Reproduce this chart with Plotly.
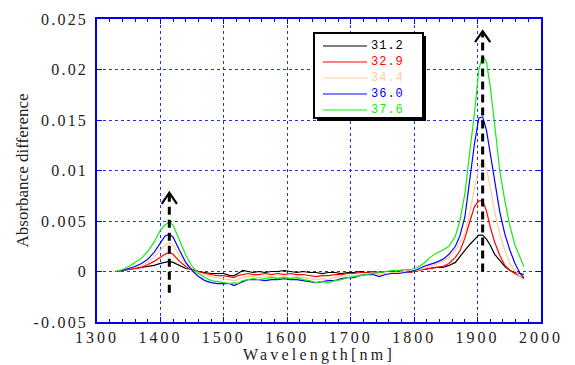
import plotly.graph_objects as go

wavelength = [1330, 1340, 1350, 1360, 1370, 1380, 1390, 1400, 1407, 1414, 1420, 1430, 1440, 1450,
              1460, 1470, 1480, 1490, 1500, 1510, 1516, 1522, 1530, 1538, 1546, 1555, 1565, 1575,
              1585, 1595, 1605, 1615, 1625, 1635, 1645, 1655, 1665, 1675, 1685, 1695, 1705, 1715,
              1725, 1735, 1745, 1755, 1765, 1775, 1785, 1795, 1805, 1815, 1825, 1835, 1845, 1855,
              1865, 1872, 1880, 1888, 1895, 1902, 1908, 1914, 1920, 1927, 1935, 1943, 1951, 1959,
              1967, 1973]

s_31_2 = [0.0000, 0.0001, 0.0002, 0.0003, 0.0004, 0.0005, 0.0006, 0.0008, 0.0009, 0.0010, 0.0009, 0.0006, 0.0003, 0.0002,
          0.0000, -0.0001, -0.0002, -0.0002, -0.0002, -0.0004, -0.0004, -0.0002, 0.0001, 0.0000, -0.0001, 0.0000, -0.0001, 0.0000,
          0.0000, 0.0001, 0.0000, -0.0001, 0.0000, -0.0001, -0.0001, -0.0002, -0.0001, -0.0001, -0.0002, -0.0001, -0.0001, 0.0000,
          -0.0001, 0.0000, -0.0001, 0.0000, 0.0000, 0.0001, 0.0000, 0.0001, 0.0001, 0.0002, 0.0003, 0.0004, 0.0004, 0.0006,
          0.0009, 0.0015, 0.0021, 0.0027, 0.0032, 0.0036, 0.0036, 0.0032, 0.0026, 0.0017, 0.0011, 0.0005, 0.0001, -0.0001,
          -0.0002, -0.0003]

s_32_9 = [0.0000, 0.0001, 0.0002, 0.0003, 0.0004, 0.0007, 0.0010, 0.0014, 0.0017, 0.0019, 0.0017, 0.0010, 0.0005, 0.0002,
          0.0000, -0.0002, -0.0003, -0.0004, -0.0004, -0.0005, -0.0006, -0.0004, -0.0003, -0.0002, -0.0003, -0.0003, -0.0002, -0.0003,
          -0.0002, -0.0003, -0.0002, -0.0003, -0.0003, -0.0004, -0.0005, -0.0004, -0.0004, -0.0003, -0.0003, -0.0002, -0.0002, -0.0001,
          -0.0001, 0.0000, -0.0001, 0.0000, 0.0000, 0.0001, 0.0000, -0.0001, 0.0001, 0.0002, 0.0003, 0.0004, 0.0005, 0.0008,
          0.0014, 0.0020, 0.0033, 0.0050, 0.0064, 0.0070, 0.0070, 0.0060, 0.0044, 0.0029, 0.0016, 0.0006, 0.0001, -0.0002,
          -0.0005, -0.0007]

s_34_4 = [0.0000, 0.0001, 0.0003, 0.0004, 0.0006, 0.0009, 0.0014, 0.0021, 0.0026, 0.0029, 0.0026, 0.0016, 0.0007, 0.0001,
          -0.0002, -0.0004, -0.0005, -0.0006, -0.0007, -0.0008, -0.0009, -0.0008, -0.0006, -0.0005, -0.0005, -0.0006, -0.0005, -0.0005,
          -0.0006, -0.0005, -0.0006, -0.0005, -0.0006, -0.0007, -0.0008, -0.0007, -0.0008, -0.0006, -0.0005, -0.0004, -0.0004, -0.0003,
          -0.0002, -0.0002, -0.0003, -0.0002, -0.0001, -0.0001, 0.0000, 0.0001, 0.0001, 0.0003, 0.0005, 0.0007, 0.0010, 0.0014,
          0.0021, 0.0029, 0.0037, 0.0060, 0.0083, 0.0103, 0.0109, 0.0102, 0.0083, 0.0059, 0.0037, 0.0021, 0.0008, 0.0001,
          -0.0005, -0.0009]

s_36_0 = [0.0000, 0.0001, 0.0003, 0.0005, 0.0008, 0.0012, 0.0019, 0.0029, 0.0035, 0.0037, 0.0034, 0.0021, 0.0009, 0.0001,
          -0.0005, -0.0009, -0.0011, -0.0012, -0.0012, -0.0012, -0.0014, -0.0012, -0.0010, -0.0008, -0.0008, -0.0008, -0.0009, -0.0008,
          -0.0008, -0.0007, -0.0008, -0.0008, -0.0009, -0.0010, -0.0011, -0.0010, -0.0009, -0.0009, -0.0007, -0.0006, -0.0006, -0.0004,
          -0.0003, -0.0003, -0.0005, -0.0003, -0.0002, -0.0002, -0.0001, 0.0000, 0.0002, 0.0005, 0.0007, 0.0009, 0.0012, 0.0017,
          0.0025, 0.0035, 0.0054, 0.0093, 0.0126, 0.0152, 0.0153, 0.0140, 0.0117, 0.0087, 0.0059, 0.0037, 0.0021, 0.0008,
          -0.0002, -0.0006]

s_37_6 = [0.0000, 0.0002, 0.0005, 0.0009, 0.0013, 0.0020, 0.0029, 0.0041, 0.0046, 0.0049, 0.0046, 0.0031, 0.0016, 0.0005,
          -0.0002, -0.0006, -0.0009, -0.0010, -0.0011, -0.0012, -0.0011, -0.0012, -0.0009, -0.0008, -0.0007, -0.0008, -0.0007, -0.0006,
          -0.0007, -0.0006, -0.0007, -0.0006, -0.0008, -0.0009, -0.0011, -0.0010, -0.0011, -0.0009, -0.0008, -0.0006, -0.0005, -0.0004,
          -0.0003, -0.0002, -0.0001, 0.0000, 0.0001, 0.0001, 0.0002, 0.0002, 0.0004, 0.0008, 0.0014, 0.0018, 0.0021, 0.0025,
          0.0035, 0.0050, 0.0077, 0.0120, 0.0156, 0.0200, 0.0214, 0.0207, 0.0183, 0.0145, 0.0100, 0.0070, 0.0045, 0.0026,
          0.0013, 0.0005]

series_labels = ["31.2", "32.9", "34.4", "36.0", "37.6"]
series_values = [s_31_2, s_32_9, s_34_4, s_36_0, s_37_6]
series_colors = ["#000000", "#ff0000", "#ffcc99", "#0000ff", "#11ee11"]

x_ticks = [1300, 1400, 1500, 1600, 1700, 1800, 1900, 2000]
y_ticks = [-0.005, 0, 0.005, 0.01, 0.015, 0.02, 0.025]
y_tick_labels = ["-0.005", "0", "0.005", "0.01", "0.015", "0.02", "0.025"]

arrow_x = [1414, 1908]
arrow_bottom = [-0.0021, 0.0]
arrow_top = [0.0078, 0.0238]
chevron_half_width = 12
chevron_drop = 0.0011

fig = go.Figure()

for lab, vals, col in zip(series_labels, series_values, series_colors):
    fig.add_trace(go.Scatter(x=wavelength, y=vals, mode="lines", name=lab,
                             line=dict(color=col, width=1.2), showlegend=False))

for ax, yb, yt in zip(arrow_x, arrow_bottom, arrow_top):
    fig.add_trace(go.Scatter(x=[ax, ax], y=[yb, yt - 0.0002], mode="lines",
                             line=dict(color="black", width=3, dash="8px,5px"), showlegend=False))
    fig.add_trace(go.Scatter(x=[ax - chevron_half_width, ax, ax + chevron_half_width],
                             y=[yt - chevron_drop, yt, yt - chevron_drop], mode="lines",
                             line=dict(color="black", width=2.2), showlegend=False))

# plot area geometry (pixels)
W, H = 575, 365
ml, mr, mt, mb = 97, 34, 19, 43
pw, ph = W - ml - mr, H - mt - mb

def px2paper(xp, yp):
    return (xp - ml) / pw, (H - mb - yp) / ph

shapes = []
# legend shadow and box
sx0, sy0 = px2paper(317, 36)
sx1, sy1 = px2paper(426, 121)
shapes.append(dict(type="rect", xref="paper", yref="paper", x0=sx0, y0=sy1, x1=sx1, y1=sy0,
                   fillcolor="black", line=dict(width=0), layer="above"))
bx0, by0 = px2paper(314, 33)
bx1, by1 = px2paper(423, 118)
shapes.append(dict(type="rect", xref="paper", yref="paper", x0=bx0, y0=by1, x1=bx1, y1=by0,
                   fillcolor="white", line=dict(color="black", width=2), layer="above"))
annotations = []
row_y = [46, 62, 78, 94, 110]
for lab, col, ry in zip(series_labels, series_colors, row_y):
    lx0, ly = px2paper(323, ry)
    lx1, _ = px2paper(367, ry)
    shapes.append(dict(type="line", xref="paper", yref="paper", x0=lx0, x1=lx1, y0=ly, y1=ly,
                       line=dict(color=col, width=1.2), layer="above"))
    tx, _ = px2paper(369, ry)
    annotations.append(dict(xref="paper", yref="paper", x=tx, y=ly,
                            text=f'<span style="letter-spacing:1px">{lab}</span>', showarrow=False,
                            xanchor="left", yanchor="middle",
                            font=dict(family="Liberation Mono", size=12, color=col)))

fig.update_layout(
    width=W, height=H,
    margin=dict(l=ml, r=mr, t=mt, b=mb),
    paper_bgcolor="white", plot_bgcolor="white",
    shapes=shapes, annotations=annotations,
    font=dict(family="Liberation Serif", size=16, color="#222222"),
    xaxis=dict(range=[1300, 2000], tickvals=x_ticks,
               ticktext=[f'<span style="letter-spacing:3px">{t}</span>' for t in x_ticks],
               showgrid=True, gridcolor="#2233ee", griddash="dot", gridwidth=1,
               showline=True, linecolor="#0000ee", linewidth=1.5, mirror="allticks",
               ticks="inside", ticklen=5, tickcolor="#0000ee",
               minor=dict(dtick=20, ticks="inside", ticklen=3, tickcolor="#0000ee", showgrid=False),
               zeroline=False, automargin=False,
               title=dict(text='<span style="letter-spacing:3.2px">Wavelength[nm]</span>',
                          standoff=0, font=dict(size=16, family="Liberation Serif")),
               ),
    yaxis=dict(range=[-0.005, 0.025], tickvals=y_ticks,
               ticktext=[f'<span style="letter-spacing:2.2px">{t}</span>' for t in y_tick_labels],
               showgrid=True, gridcolor="#2233ee", griddash="dot", gridwidth=1,
               showline=True, linecolor="#0000ee", linewidth=1.5, mirror="ticks",
               ticks="inside", ticklen=5, tickcolor="#0000ee", ticklabelstandoff=4,
               zeroline=False, automargin=False,
               title=dict(text="Absorbance difference", standoff=1,
                          font=dict(size=17, family="Liberation Serif")),
               ),
)

fig.write_html("out.html", config={"displayModeBar": False},
               post_script="document.body.style.margin='0';")
